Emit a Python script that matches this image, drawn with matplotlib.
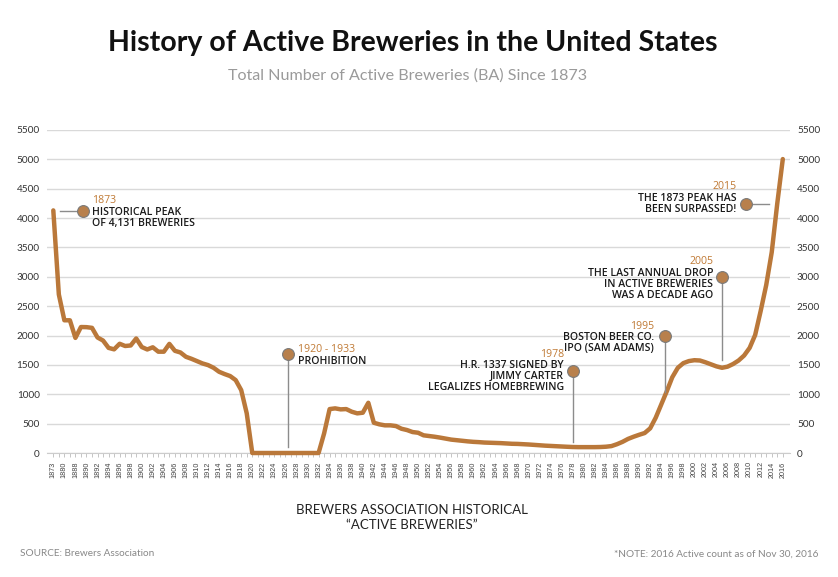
import matplotlib
matplotlib.use("Agg")
import matplotlib.pyplot as plt
import numpy as np

# ---- data ----
years = ["1873", "1876", "1880", "1887"] + [str(y) for y in range(1888, 2017)]
breweries = [
    4131, 2700, 2260, 2260, 1960, 2145, 2143, 2131, 1967, 1915,
    1790, 1765, 1860, 1822, 1831, 1950, 1805, 1763, 1800, 1725,
    1725, 1858, 1740, 1712, 1638, 1604, 1565, 1525, 1497, 1451,
    1383, 1344, 1310, 1241, 1071, 675,
    0, 0, 0, 0, 0, 0, 0, 0, 0, 0, 0, 0, 0,
    333, 748, 760, 743, 748, 703, 675, 686, 855, 515,
    488, 471, 471, 459, 413, 391, 357, 345, 301, 289,
    277, 262, 245, 228, 218, 208, 198, 190, 185, 178,
    175, 172, 168, 163, 157, 155, 150, 145, 138, 132,
    125, 120, 115, 110, 106, 102, 100, 100, 100, 100,
    102, 107, 118, 150, 190, 240, 277, 310, 340, 420,
    600, 825, 1050, 1290, 1450, 1530, 1565, 1580, 1575, 1545,
    1510, 1475, 1451, 1470, 1515, 1575, 1660, 1790, 2010, 2420,
    2860, 3420, 4250, 5005,
]
yticks = list(range(0, 5501, 500))

ann_year = ["1873", "1920 - 1933", "1978", "1995", "2005", "2015"]
ann_text = [
    "HISTORICAL PEAK\nOF 4,131 BREWERIES",
    "PROHIBITION",
    "H.R. 1337 SIGNED BY\nJIMMY CARTER\nLEGALIZES HOMEBREWING",
    "BOSTON BEER CO.\nIPO (SAM ADAMS)",
    "THE LAST ANNUAL DROP\nIN ACTIVE BREWERIES\nWAS A DECADE AGO",
    "THE 1873 PEAK HAS\nBEEN SURPASSED!",
]
ann_dot_x = [5.4, 42.5, 94.0, 110.7, 121.0, 125.4]
ann_dot_y = [4125, 1690, 1400, 2000, 3000, 4245]
ann_end_x = [1.2, 42.5, 94.0, 110.7, 121.0, 129.5]
ann_end_y = [4125, 110, 190, 1040, 1580, 4245]

LINE = "#BA783A"
DOT = "#B8804C"
ORANGE = "#C07A35"
DARK = "#1a1a1a"

plt.rcParams["font.family"] = ["Lato", "DejaVu Sans"]

fig = plt.figure(figsize=(8.38, 5.77), dpi=100)
ax = fig.add_axes([0.0557, 0.2149, 0.8870, 0.5598])

x = np.arange(len(years))
ax.plot(x, breweries, color=LINE, lw=3.2, solid_joinstyle="round",
        solid_capstyle="round", clip_on=False, zorder=3)

ax.set_xlim(-1.2, 133.3)
ax.set_ylim(0, 5500)
ax.set_yticks(yticks)
ax.grid(axis="y", color="#d9d9d9", lw=1.0, zorder=0)
ax.tick_params(axis="y", length=0, labelsize=7.2, labelcolor="#333333", pad=5,
               left=True, right=True, labelleft=True, labelright=True)
ax.set_yticklabels([str(v) for v in yticks])

ax.set_xticks(x)
ax.set_xticklabels([y if i % 2 == 0 else "" for i, y in enumerate(years)],
                   rotation=90, fontsize=5.2, color="#444444",
                   family=["Liberation Sans Narrow", "Liberation Sans", "DejaVu Sans"])
ax.tick_params(axis="x", length=3, color="#bbbbbb", width=0.6, pad=3)

for s in ["top", "left", "right"]:
    ax.spines[s].set_visible(False)
ax.spines["bottom"].set_color("#cccccc")
ax.spines["bottom"].set_linewidth(0.8)

for i in range(len(ann_year)):
    dx, dy = ann_dot_x[i], ann_dot_y[i]
    ax.plot([dx, ann_end_x[i]], [dy, ann_end_y[i]], color="#8c8c8c", lw=1.0,
            zorder=4, clip_on=False)
    ax.plot([dx], [dy], "o", ms=8.5, color=DOT, mec="#7a7a7a", mew=0.8,
            zorder=5, clip_on=False)

AFONT = ["Open Sans", "DejaVu Sans"]

def ann(i, tx, ty, ha):
    ax.text(tx, ty + 10, ann_year[i], color=ORANGE, fontsize=7.6, ha=ha, va="bottom",
            family=AFONT, zorder=6)
    ax.text(tx, ty, ann_text[i], color=DARK, fontsize=7.6, ha=ha, va="top",
            fontweight="semibold", family=AFONT, linespacing=1.0, zorder=6)

ann(0, 7.0, 4195, "left")
ann(1, 44.2, 1655, "left")
ann(2, 92.4, 1580, "right")
ann(3, 108.7, 2055, "right")
ann(4, 119.4, 3155, "right")
ann(5, 123.6, 4430, "right")

fig.text(0.493, 0.925, "History of Active Breweries in the United States",
         ha="center", va="center", fontsize=20.5, fontweight="bold", color="#111111")
fig.text(0.486, 0.869, "Total Number of Active Breweries (BA) Since 1873",
         ha="center", va="center", fontsize=11.6, color="#9a9a9a")
fig.text(0.492, 0.103, "BREWERS ASSOCIATION HISTORICAL\n\u201cACTIVE BREWERIES\u201d",
         ha="center", va="center", fontsize=9.5, color="#222222", linespacing=1.25)
fig.text(0.024, 0.040, "SOURCE: Brewers Association", ha="left", va="center",
         fontsize=7.2, color="#888888")
fig.text(0.977, 0.040, "*NOTE: 2016 Active count as of Nov 30, 2016", ha="right",
         va="center", fontsize=7.2, color="#888888")

fig.savefig("out.png", dpi=100, facecolor="white")
